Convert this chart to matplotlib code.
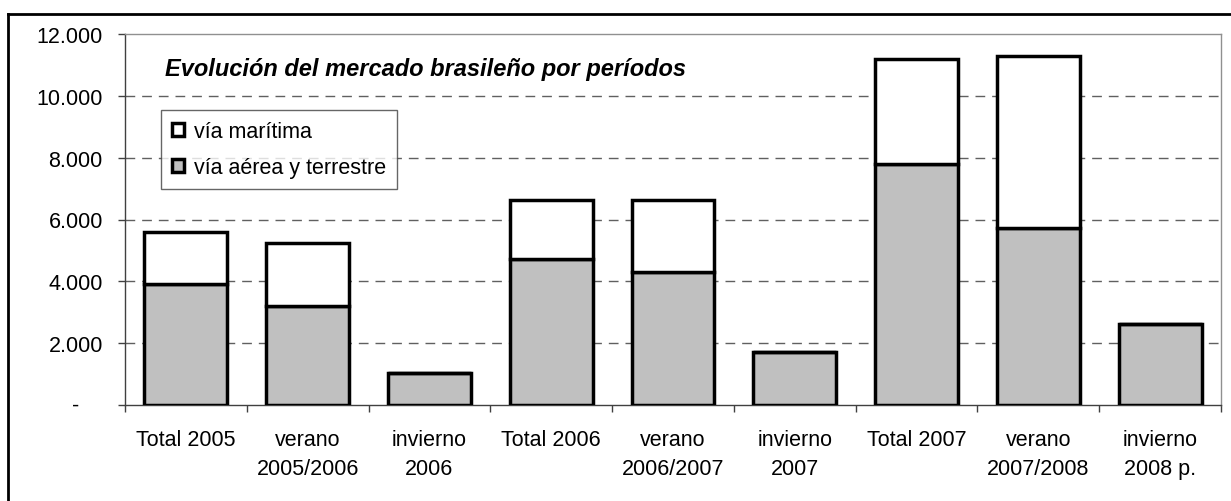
import numpy as np
import matplotlib
matplotlib.use("Agg")
import matplotlib.pyplot as plt
from matplotlib.lines import Line2D
from matplotlib.patches import Patch
import matplotlib.transforms as mtransforms

plt.rcParams['font.family'] = ['Liberation Sans', 'DejaVu Sans']
plt.rcParams['lines.scale_dashes'] = False

# periods and values
categories = ["Total 2005", "verano\n2005/2006", "invierno\n2006",
              "Total 2006", "verano\n2006/2007", "invierno\n2007",
              "Total 2007", "verano\n2007/2008", "invierno\n2008 p."]
totals = [5600, 5230, 1020, 6620, 6620, 1730, 11200, 11280, 2620]
aerea_terrestre = [3910, 3200, 1020, 4710, 4300, 1730, 7800, 5720, 2620]
maritima = [t - a for t, a in zip(totals, aerea_terrestre)]

yticks = [0, 2000, 4000, 6000, 8000, 10000, 12000]
ytick_labels = ["", "2.000", "4.000", "6.000", "8.000", "10.000", "12.000"]

W, H = 1231, 502
fig = plt.figure(figsize=(W / 100, H / 100), dpi=100)
ax = fig.add_axes([125 / W, (H - 406) / H, 1096 / W, 371 / H])

x = np.arange(len(categories))
bw = 0.68
edge = dict(edgecolor="black", linewidth=2.5, zorder=3)
b1 = ax.bar(x, aerea_terrestre, bw, color="#c0c0c0", label="vía aérea y terrestre", **edge)
b2 = ax.bar(x, maritima, bw, bottom=aerea_terrestre, color="white", label="vía marítima", **edge)

ax.set_xlim(-0.5, len(categories) - 0.5)
ax.set_ylim(0, 12000)

# dashed gridlines
for v in yticks[1:-1]:
    ax.axhline(v, color="#606060", linewidth=1.0, dashes=(7, 5), zorder=1)

# spines
for s in ["top", "right"]:
    ax.spines[s].set_color("#909090")
    ax.spines[s].set_linewidth(1.0)
ax.spines["left"].set_color("#404040")
ax.spines["bottom"].set_color("#404040")
ax.spines["left"].set_linewidth(1.0)
ax.spines["bottom"].set_linewidth(1.0)

ax.set_yticks(yticks, labels=ytick_labels)
ax.tick_params(axis="y", direction="out", length=5, width=1, color="#404040",
               pad=11, labelsize=15.5)
ax.text(-0.045, 0, "-", transform=mtransforms.blended_transform_factory(ax.transAxes, ax.transData),
        ha="center", va="center", fontsize=15.5)

ax.set_xticks(x, labels=categories)
ax.set_xticks(np.arange(len(categories) + 1) - 0.5, minor=True)
ax.tick_params(axis="x", which="major", length=0, pad=17, labelsize=15.5)
ax.tick_params(axis="x", which="minor", direction="out", length=5, width=1, color="#404040")
for lab in ax.get_xticklabels():
    lab.set_linespacing(1.55)

ax.text(0.0365, 0.906, "Evolución del mercado brasileño por períodos",
        transform=ax.transAxes, ha="left", va="center",
        fontsize=17, fontweight="bold", fontstyle="italic")

handles = [Patch(facecolor="white", edgecolor="black", linewidth=2.5),
           Patch(facecolor="#c0c0c0", edgecolor="black", linewidth=2.5)]
leg = ax.legend(handles, ["vía marítima", "vía aérea y terrestre"],
                loc="upper left", bbox_to_anchor=(0.0328, 0.795),
                fontsize=15.5, frameon=True, fancybox=False,
                handlelength=0.55, handleheight=0.55, handletextpad=0.5,
                borderpad=0.5, labelspacing=0.7, borderaxespad=0)
leg.get_frame().set_edgecolor("#404040")
leg.get_frame().set_linewidth(1.0)

# outer chart border (left and top edges visible in the frame)
fig.add_artist(Line2D([7.5 / W, 7.5 / W], [0, 1 - 15 / H], transform=fig.transFigure,
                      color="black", linewidth=2))
fig.add_artist(Line2D([7.5 / W, 1], [1 - 15 / H, 1 - 15 / H], transform=fig.transFigure,
                      color="black", linewidth=2))

fig.savefig("out.png", dpi=100)
